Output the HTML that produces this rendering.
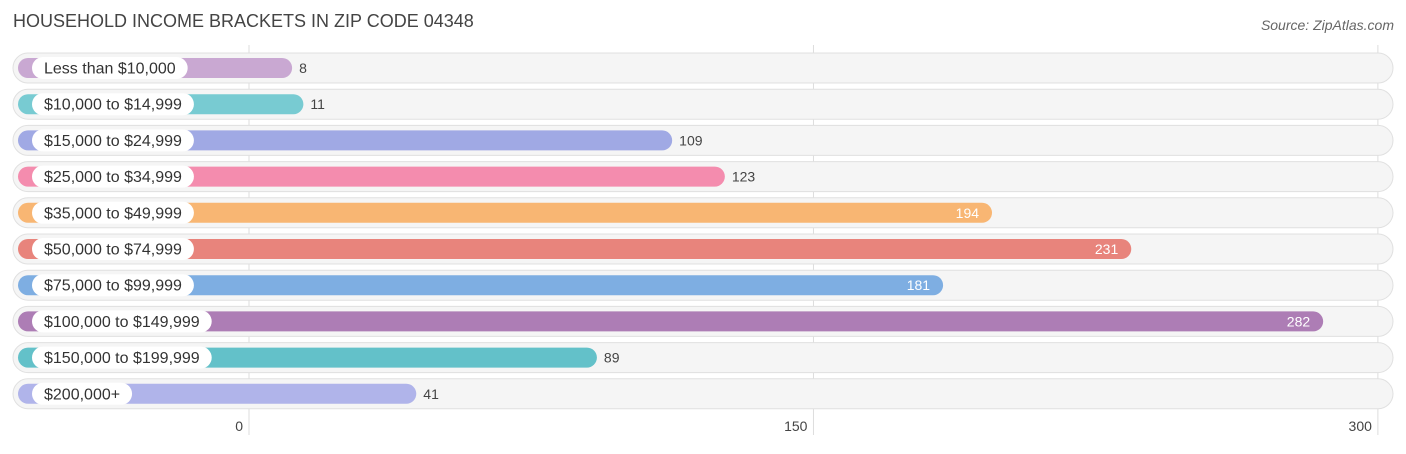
<!DOCTYPE html>
<html><head><meta charset="utf-8"><style>
body{margin:0;background:#fff;font-family:"Liberation Sans",sans-serif}
</style></head><body>
<svg id="c" width="1406" height="449" xmlns="http://www.w3.org/2000/svg">
<text x="13" y="27" font-size="18" fill="#444">HOUSEHOLD INCOME BRACKETS IN ZIP CODE 04348</text>
<text x="1394" y="30" font-size="14" font-style="italic" fill="#666" text-anchor="end">Source: ZipAtlas.com</text>
<g id="grid"></g><g id="rows"></g>
</svg>
<script>
const categories=["Less than $10,000","$10,000 to $14,999","$15,000 to $24,999","$25,000 to $34,999","$35,000 to $49,999","$50,000 to $74,999","$75,000 to $99,999","$100,000 to $149,999","$150,000 to $199,999","$200,000+"];
const values=[8,11,109,123,194,231,181,282,89,41];
const colors=["#c9a8d2","#78cbd2","#a0a9e4","#f48cae","#f8b673","#e8847c","#7eaee2","#ad7db5","#63c1c9","#b0b4ea"];
const ticks=[0,150,300];
const NS="http://www.w3.org/2000/svg";
const x=v=>249+v*3.763;
const yc=i=>68+i*36.2;
function mk(t,a,p){const e=document.createElementNS(NS,t);for(const k in a)e.setAttribute(k,a[k]);p.appendChild(e);return e;}
const grid=document.getElementById('grid'),rows=document.getElementById('rows');
ticks.forEach(t=>{
  const l=mk('line',{x1:x(t),x2:x(t),y1:45,y2:435,stroke:'#ddd','stroke-width':1},grid);
  
  
  const tx=mk('text',{x:x(t)-6,y:431,'font-size':14,fill:'#444','text-anchor':'end'},grid);
  tx.textContent=t;
  
  
});
categories.forEach((c,i)=>{
  const y=yc(i),g=mk('g',{},rows);
  
  
  const bg=mk('rect',{x:13,y:y-15,width:1380,height:30,rx:15,fill:'#f5f5f5',stroke:'#e0e0e0'},g);
  
  
  const end=x(values[i])+13;
  const b=mk('rect',{x:18,y:y-10,width:end-18,height:20,rx:10,fill:colors[i]},g);
  
  
  const p=mk('rect',{x:32,y:y-11,width:100,height:22,rx:11,fill:'#fff'},g);
  
  
  const t=mk('text',{x:44,y:y+5.5,'font-size':16,fill:'#333'},g);
  t.textContent=c;
  
  
  p.setAttribute('width',t.getComputedTextLength()+24);
  const inside=values[i]>150;
  const v=mk('text',{x:inside?end-13:end+7,y:y+5,'font-size':14,fill:inside?'#fff':'#444','text-anchor':inside?'end':'start'},g);
  v.textContent=values[i];
  
  
});
</script>
</body></html>
